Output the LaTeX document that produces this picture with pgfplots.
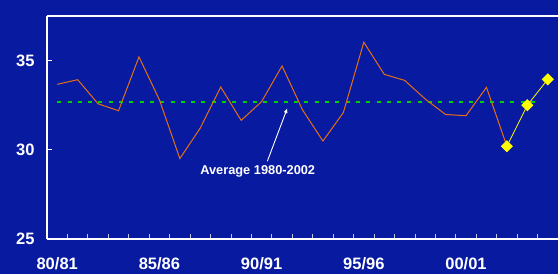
\documentclass[border=0pt]{standalone}
\usepackage{fontspec}
\setmainfont{Liberation Sans}
\usepackage{pgfplots}
\pgfplotsset{compat=1.18}
\usetikzlibrary{arrows.meta}
\definecolor{bg}{RGB}{8,26,160}
\definecolor{orangeline}{RGB}{230,110,20}
\definecolor{avggreen}{RGB}{0,210,0}
\definecolor{tickblue}{RGB}{190,200,235}
\definecolor{yel}{RGB}{255,255,0}
\begin{document}
\begin{tikzpicture}
\path[use as bounding box, fill=bg] (-47pt,-35pt) rectangle (511pt,239pt);
\begin{axis}[
  at={(0,0)}, anchor=south west,
  scale only axis, width=511pt, height=223pt,
  xmin=-0.5, xmax=24.5, ymin=25, ymax=37.5,
  axis x line*=bottom, axis y line*=left,
  axis line style={white, line width=1.4pt},
  xtick={0.5,1.5,...,23.5},
  xticklabels={},
  xtick style={draw=tickblue, line width=0.8pt},
  extra x ticks={0,5,10,15,20},
  extra x tick labels={80/81,85/86,90/91,95/96,00/01},
  extra x tick style={major tick length=0pt},
  ytick={25,30,35},
  ytick style={white, line width=1pt},
  major tick length=5pt,
  tick align=inside,
  /pgf/number format/assume math mode=true,
  ticklabel style={font=\fontsize{16.5}{18}\selectfont\bfseries, text=white},
  xticklabel style={yshift=-15pt},
  yticklabel style={xshift=-9pt},
  clip=false,
]
\addplot[avggreen, line width=2pt, dash pattern=on 4pt off 6.3pt] coordinates {(0,32.7) (23.6,32.7)};
\addplot[orangeline, line width=1pt] coordinates {
(0,33.67) (1,33.93) (2,32.58) (3,32.19) (4,35.21) (5,32.8) (6,29.51) (7,31.22)
(8,33.52) (9,31.65) (10,32.7) (11,34.7) (12,32.24) (13,30.49) (14,32.09) (15,36.03)
(16,34.23) (17,33.89) (18,32.85) (19,31.98) (20,31.91) (21,33.5) (22,30.2)};
\addplot[yel, line width=0.8pt, mark=square*, mark size=3.9pt, mark options={fill=yel, draw=yel, rotate=45}] coordinates {
(22,30.2) (23,32.5) (24,33.95)};
\draw[white, line width=1.4pt] (rel axis cs:0,1) -- (rel axis cs:1,1);
\draw[white, line width=0.9pt, -{Latex[length=5pt,width=4pt]}] (axis cs:10.28,29.36) -- (axis cs:11.26,32.34);
\node[text=white, font=\fontsize{12.8}{14}\selectfont\bfseries] at (axis cs:9.81,28.8) {Average 1980-2002};
\end{axis}
\end{tikzpicture}
\end{document}
